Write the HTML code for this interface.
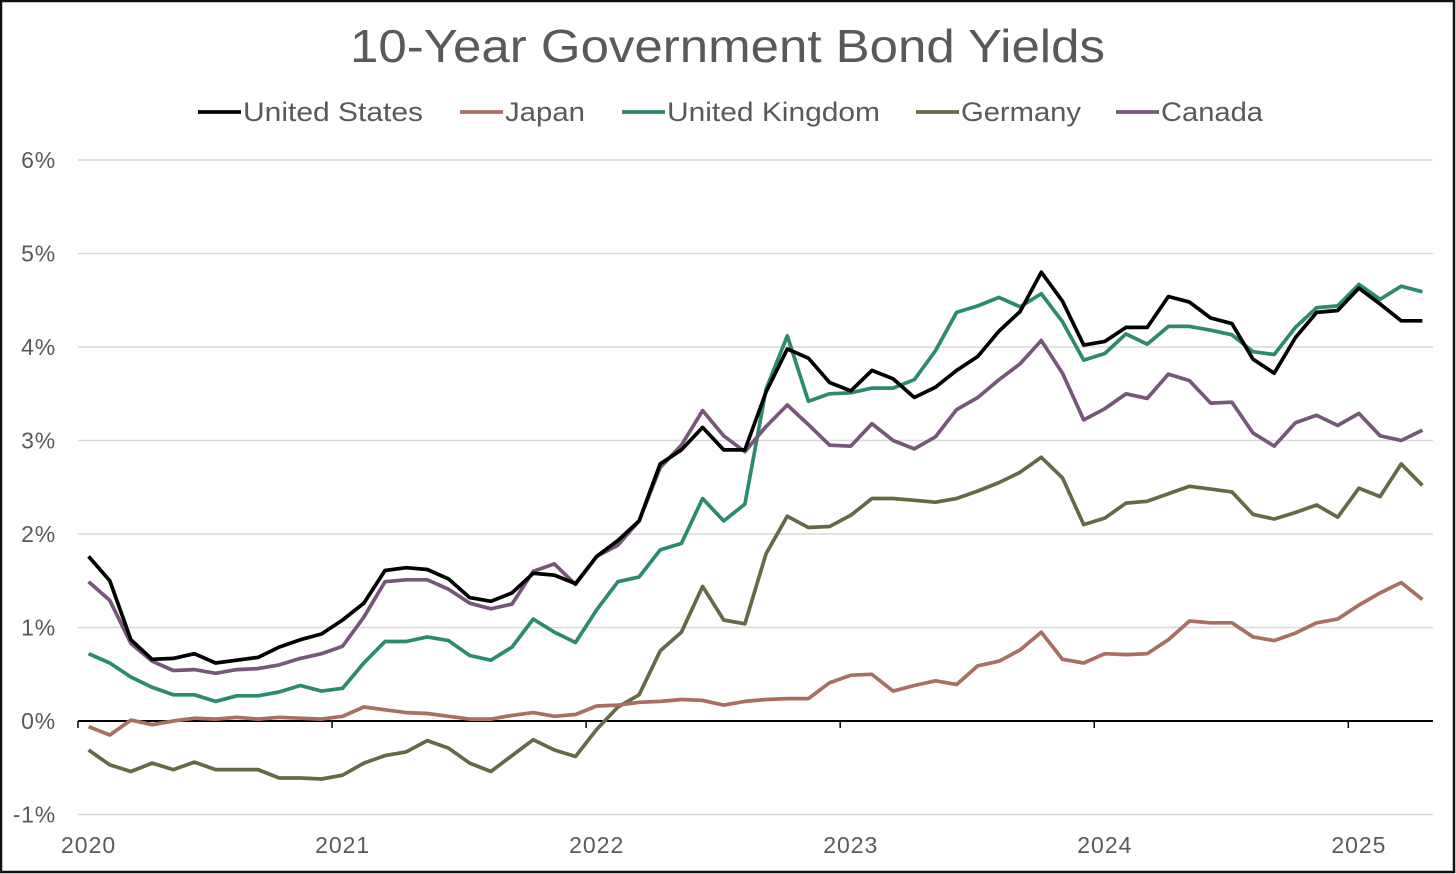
<!DOCTYPE html>
<html><head><meta charset="utf-8"><style>
html,body{margin:0;padding:0;background:#fff}
svg{display:block}
text{font-family:"Liberation Sans",sans-serif;fill:#595959}
</style></head><body>
<svg id="c" width="1456" height="874" xmlns="http://www.w3.org/2000/svg">
<rect x="1" y="1" width="1453" height="871" fill="#fff" stroke="#111" stroke-width="2.5"/>
<text x="350" y="62" font-size="46" textLength="755" lengthAdjust="spacingAndGlyphs">10-Year Government Bond Yields</text>
</svg>
<script>
const S=document.getElementById('c'),NS='http://www.w3.org/2000/svg';
function el(t,a,txt){const e=document.createElementNS(NS,t);for(const k in a)e.setAttribute(k,a[k]);if(txt!==undefined)e.textContent=txt;S.appendChild(e);return e;}
const X0=78,X1=1433,W=(X1-X0)/64;
const Y=v=>721-v*93.5;
const xi=i=>X0+W*(i+0.5);
for(let v=-1;v<=6;v++){
 if(v!==0)el('line',{x1:X0,x2:X1,y1:Y(v),y2:Y(v),stroke:'#d9d9d9','stroke-width':1.5});
 el('text',{x:56,y:Y(v)+8,'font-size':23,'letter-spacing':0.8,'text-anchor':'end'},v+'%');
}
const data={
us:[1.76,1.5,0.87,0.66,0.67,0.72,0.62,0.65,0.68,0.79,0.87,0.93,1.08,1.26,1.61,1.64,1.62,1.52,1.32,1.28,1.37,1.58,1.56,1.47,1.76,1.93,2.14,2.75,2.90,3.14,2.90,2.90,3.52,3.98,3.88,3.62,3.53,3.75,3.66,3.46,3.57,3.75,3.90,4.17,4.38,4.80,4.49,4.02,4.06,4.21,4.21,4.54,4.48,4.31,4.25,3.87,3.72,4.10,4.37,4.39,4.63,4.46,4.28,4.28],
jp:[-0.06,-0.15,0.01,-0.04,0.00,0.03,0.02,0.04,0.02,0.04,0.03,0.02,0.05,0.15,0.12,0.09,0.08,0.05,0.02,0.02,0.06,0.09,0.05,0.07,0.16,0.17,0.20,0.21,0.23,0.22,0.17,0.21,0.23,0.24,0.24,0.41,0.49,0.50,0.32,0.38,0.43,0.39,0.59,0.64,0.76,0.95,0.66,0.62,0.72,0.71,0.72,0.87,1.07,1.05,1.05,0.90,0.86,0.94,1.05,1.09,1.24,1.37,1.48,1.30],
uk:[0.72,0.62,0.47,0.36,0.28,0.28,0.21,0.27,0.27,0.31,0.38,0.32,0.35,0.62,0.85,0.85,0.90,0.86,0.70,0.65,0.79,1.09,0.95,0.84,1.19,1.49,1.54,1.83,1.90,2.38,2.14,2.32,3.55,4.12,3.42,3.50,3.51,3.56,3.56,3.65,3.96,4.37,4.44,4.53,4.43,4.57,4.27,3.86,3.93,4.14,4.03,4.22,4.22,4.18,4.13,3.95,3.92,4.21,4.42,4.44,4.67,4.51,4.65,4.59],
de:[-0.31,-0.47,-0.54,-0.45,-0.52,-0.44,-0.52,-0.52,-0.52,-0.61,-0.61,-0.62,-0.58,-0.45,-0.37,-0.33,-0.21,-0.29,-0.45,-0.54,-0.37,-0.20,-0.31,-0.38,-0.09,0.15,0.28,0.75,0.95,1.44,1.08,1.04,1.79,2.19,2.07,2.08,2.20,2.38,2.38,2.36,2.34,2.38,2.46,2.55,2.66,2.82,2.60,2.10,2.17,2.33,2.35,2.43,2.51,2.48,2.45,2.21,2.16,2.23,2.31,2.18,2.49,2.40,2.75,2.52],
ca:[1.49,1.29,0.83,0.64,0.54,0.55,0.51,0.55,0.56,0.60,0.67,0.72,0.80,1.11,1.49,1.51,1.51,1.41,1.26,1.20,1.25,1.60,1.68,1.46,1.76,1.88,2.14,2.71,2.95,3.32,3.05,2.88,3.15,3.38,3.17,2.95,2.94,3.18,3.00,2.91,3.04,3.33,3.46,3.65,3.82,4.07,3.72,3.22,3.34,3.50,3.45,3.71,3.64,3.40,3.41,3.08,2.94,3.19,3.27,3.16,3.29,3.05,3.00,3.11]};
el('line',{x1:X0,x2:X1,y1:Y(0),y2:Y(0),stroke:'#000','stroke-width':2});
for(let k=0;k<=5;k++){const x=X0+12*W*k;el('line',{x1:x,x2:x,y1:Y(0),y2:Y(0)+7,stroke:'#000','stroke-width':1.5});
 el('text',{x:xi(12*k),y:853,'font-size':23,'letter-spacing':1,'text-anchor':'middle'},2020+k);}
const ser=[['de','#636b46'],['jp','#a86f63'],['uk','#2d8a6e'],['ca','#765779'],['us','#000']];
for(const [k,c] of ser){el('polyline',{points:data[k].map((v,i)=>xi(i).toFixed(1)+','+Y(v).toFixed(1)).join(' '),fill:'none',stroke:c,'stroke-width':3.7,'stroke-linejoin':'round'});}
const leg=[['#000','United States',198,180],['#a86f63','Japan',460,80],['#2d8a6e','United Kingdom',622,213],['#636b46','Germany',916,120],['#765779','Canada',1116,102]];
for(const [c,t,x,w] of leg){el('line',{x1:x,x2:x+43,y1:112,y2:112,stroke:c,'stroke-width':3.7});el('text',{x:x+45,y:121,'font-size':27,textLength:w,lengthAdjust:'spacingAndGlyphs'},t);}
</script>
</body></html>
